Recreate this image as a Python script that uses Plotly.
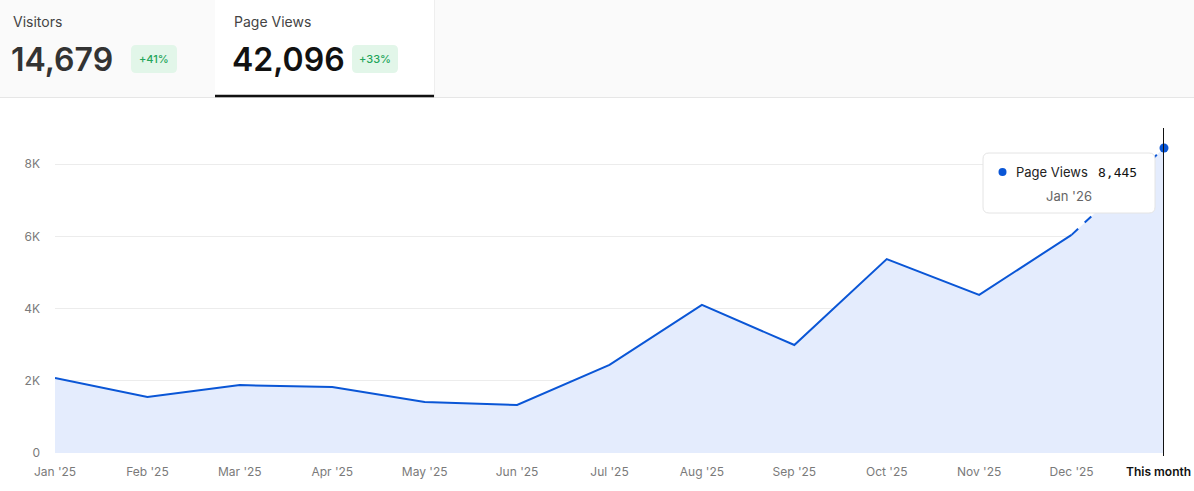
import plotly.graph_objects as go

# ---- data ----
months = ["Jan '25", "Feb '25", "Mar '25", "Apr '25", "May '25", "Jun '25", "Jul '25",
          "Aug '25", "Sep '25", "Oct '25", "Nov '25", "Dec '25", "This month"]
page_views = [2080, 1550, 1880, 1830, 1410, 1330, 2440, 4100, 2990, 5370, 4380, 6040, 8445]
y_ticks = [0, 2000, 4000, 6000, 8000]
y_tick_labels = ["0", "2K", "4K", "6K", "8K"]
visitors_total = "14,679"
visitors_change = "+41%"
pageviews_total = "42,096"
pageviews_change = "+33%"
tooltip_label = "Page Views"
tooltip_value = "8,445"
tooltip_date = "Jan '26"

W, H = 1194, 491
ML, MR, MT, MB = 55, 30, 128, 38
PW = W - ML - MR
PH = H - MT - MB

def px(x):
    return (x - ML) / PW

def py(y):
    return (H - MB - y) / PH

LINE = "#0a56d6"
FILL = "#e4ecfd"
FONT = "Inter"

idx = list(range(len(months)))

fig = go.Figure()
fig.add_trace(go.Scatter(x=idx, y=page_views, mode="lines", line=dict(width=0, color=FILL),
                         fill="tozeroy", fillcolor=FILL, hoverinfo="skip", showlegend=False))
fig.add_trace(go.Scatter(x=idx[:-1], y=page_views[:-1], mode="lines",
                         line=dict(color=LINE, width=2), showlegend=False))
fig.add_trace(go.Scatter(x=idx[-2:], y=page_views[-2:], mode="lines",
                         line=dict(color=LINE, width=2, dash="dash"), showlegend=False))
fig.add_trace(go.Scatter(x=[idx[-1]], y=[page_views[-1]], mode="markers",
                         marker=dict(color=LINE, size=9), showlegend=False, cliponaxis=False))

# last label ("This month") is drawn as a right-aligned annotation so it stays inside the page
ticktext = list(months[:-1]) + [""]

fig.update_layout(
    width=W, height=H, autosize=False,
    margin=dict(l=ML, r=MR, t=MT, b=MB, pad=0, autoexpand=False),
    paper_bgcolor="white", plot_bgcolor="white",
    font=dict(family=FONT, size=12, color="#7a7a7a"),
    xaxis=dict(range=[0, 12], tickmode="array", tickvals=idx, ticktext=ticktext,
               showgrid=False, zeroline=False, showline=False, ticks="", automargin=False,
               ticklabelstandoff=10, tickfont=dict(size=12, color="#7a7a7a")),
    yaxis=dict(range=[0, 9000], tickmode="array", tickvals=y_ticks, ticktext=y_tick_labels,
               showgrid=True, gridcolor="#ececec", gridwidth=1, zeroline=False, automargin=False,
               showline=False, ticks="", ticklabelstandoff=14, tickfont=dict(size=12, color="#7a7a7a")),
    hovermode=False,
)

shapes = []
# header backgrounds
shapes.append(dict(type="rect", xref="paper", yref="paper", x0=px(0), x1=px(W), y0=py(97), y1=py(0),
                   fillcolor="#fafafa", line=dict(width=0), layer="below"))
shapes.append(dict(type="rect", xref="paper", yref="paper", x0=px(215), x1=px(434), y0=py(97), y1=py(0),
                   fillcolor="white", line=dict(width=0), layer="below"))
shapes.append(dict(type="line", xref="paper", yref="paper", x0=px(0), x1=px(W), y0=py(97.5), y1=py(97.5),
                   line=dict(color="#e6e6e6", width=1), layer="below"))
shapes.append(dict(type="line", xref="paper", yref="paper", x0=px(434.5), x1=px(434.5), y0=py(97), y1=py(0),
                   line=dict(color="#eeeeee", width=1), layer="below"))
shapes.append(dict(type="line", xref="paper", yref="paper", x0=px(215), x1=px(434), y0=py(96), y1=py(96),
                   line=dict(color="#111111", width=2.5), layer="below"))


def rounded(x0, y0, x1, y1, r):
    # pixel coords -> paper path with rounded corners
    X = lambda v: px(v)
    Y = lambda v: py(v)
    return (f"M {X(x0+r)},{Y(y0)} L {X(x1-r)},{Y(y0)} Q {X(x1)},{Y(y0)} {X(x1)},{Y(y0+r)} "
            f"L {X(x1)},{Y(y1-r)} Q {X(x1)},{Y(y1)} {X(x1-r)},{Y(y1)} "
            f"L {X(x0+r)},{Y(y1)} Q {X(x0)},{Y(y1)} {X(x0)},{Y(y1-r)} "
            f"L {X(x0)},{Y(y0+r)} Q {X(x0)},{Y(y0)} {X(x0+r)},{Y(y0)} Z")

# badges
shapes.append(dict(type="path", xref="paper", yref="paper", path=rounded(131, 45, 177, 73, 5),
                   fillcolor="#e2f6e9", line=dict(width=0), layer="below"))
shapes.append(dict(type="path", xref="paper", yref="paper", path=rounded(352, 45, 398, 73, 5),
                   fillcolor="#e2f6e9", line=dict(width=0), layer="below"))

# vertical current-month line
shapes.append(dict(type="line", xref="x", yref="paper", x0=12, x1=12, y0=py(456), y1=py(128),
                   line=dict(color="#111111", width=2), layer="above"))

# tooltip
shapes.append(dict(type="path", xref="paper", yref="paper", path=rounded(983, 153, 1155, 213, 6),
                   fillcolor="white", line=dict(color="#e4e4e4", width=1), layer="above"))
shapes.append(dict(type="circle", xref="paper", yref="paper", x0=px(998.5), x1=px(1006.5),
                   y0=py(176), y1=py(168), fillcolor=LINE, line=dict(width=0), layer="above"))

annotations = [
    dict(text="Visitors", x=px(11), y=py(21), xanchor="left", yanchor="middle",
         font=dict(size=14, color="#444444", family=FONT)),
    dict(text=visitors_total, x=px(9), y=py(59), xanchor="left", yanchor="middle",
         font=dict(size=32, color="#333333", family=FONT, weight=600)),
    dict(text=visitors_change, x=px(154), y=py(59), xanchor="center", yanchor="middle",
         font=dict(size=11, color="#22a55a", family=FONT, weight=500)),
    dict(text="Page Views", x=px(232), y=py(21), xanchor="left", yanchor="middle",
         font=dict(size=14, color="#444444", family=FONT)),
    dict(text=pageviews_total, x=px(230), y=py(59), xanchor="left", yanchor="middle",
         font=dict(size=32, color="#111111", family=FONT, weight=600)),
    dict(text=pageviews_change, x=px(375), y=py(59), xanchor="center", yanchor="middle",
         font=dict(size=11, color="#22a55a", family=FONT, weight=500)),
    dict(text=tooltip_label, x=px(1014), y=py(172), xanchor="left", yanchor="middle",
         font=dict(size=13, color="#222222", family=FONT)),
    dict(text=tooltip_value, x=px(1139), y=py(172), xanchor="right", yanchor="middle",
         font=dict(size=13, color="#111111", family="DejaVu Sans Mono")),
    dict(text=tooltip_date, x=px(1069), y=py(196), xanchor="center", yanchor="middle",
         font=dict(size=13, color="#666666", family=FONT)),
    dict(text=months[-1], x=px(1193), y=py(471), xanchor="right", yanchor="middle",
         font=dict(size=12, color="#111111", family=FONT, weight=600)),
]
for a in annotations:
    a.update(xref="paper", yref="paper", showarrow=False)

fig.update_layout(shapes=shapes, annotations=annotations)
fig.write_html("out.html",
               config={"responsive": False, "displayModeBar": False},
               post_script="document.body.style.margin='0';")
